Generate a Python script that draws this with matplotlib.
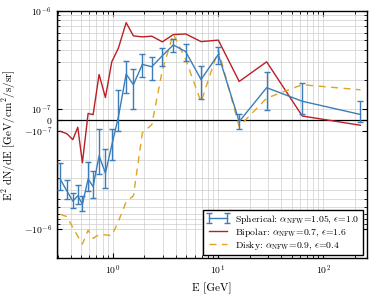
import matplotlib
matplotlib.use("Agg")
import matplotlib.pyplot as plt
import numpy as np
from matplotlib.ticker import SymmetricalLogLocator, LogLocator, NullFormatter

plt.rcParams.update({
    "font.family": "serif",
    "font.serif": ["cmr10"],
    "mathtext.fontset": "cm",
    "axes.formatter.use_mathtext": True,
    "axes.unicode_minus": True,
    "font.size": 7,
})

# energy bin centres [GeV]
E = [0.316, 0.366, 0.417, 0.465, 0.514, 0.583, 0.650, 0.741, 0.851, 0.978,
     1.13, 1.34, 1.57, 1.91, 2.35, 2.96, 3.76, 4.93, 6.90, 10.07,
     15.9, 29.0, 63.2, 226.0]

# E^2 dN/dE in units of 1e-7 GeV/cm^2/s/sr
spherical = [-3.1, -4.1, -5.2, -4.6, -5.6, -3.1, -3.7, -1.8, -2.7, -1.4,
             0.27, 2.27, 1.77, 2.85, 2.7, 3.5, 4.5, 3.85, 2.0, 3.6,
             -0.15, 1.65, 1.2, 0.5]
spherical_err = [0.95, 0.9, 0.9, 1.0, 1.0, 1.0, 1.15, 0.95, 1.15, 0.6,
                 1.28, 0.8, 0.76, 0.75, 0.73, 0.73, 0.7, 0.73, 0.73, 0.72,
                 0.7, 0.71, 0.63, 0.71]
bipolar = [-1.01, -1.07, -1.23, -0.67, -2.12, 0.6, 0.48, 2.25, 1.31, 3.03,
           4.17, 7.6, 5.57, 5.44, 5.53, 4.84, 5.74, 5.83, 4.87, 5.04,
           1.91, 3.03, 0.36, -0.49]
disky = [-7.1, -7.5, -9.7, -11.9, -14.3, -10.3, -12.5, -11.4, -11.5, -11.7,
         -8.4, -5.3, -4.6, -1.05, -0.43, 2.5, 5.8, 3.2, 1.18, 4.0,
         -0.6, 1.29, 1.77, 1.57]

LABELS = [r"Spherical: $\alpha_{\rm NFW}$=1.05, $\epsilon$=1.0",
          r"Bipolar: $\alpha_{\rm NFW}$=0.7, $\epsilon$=1.6",
          r"Disky: $\alpha_{\rm NFW}$=0.9, $\epsilon$=0.4"]
COLORS = ["#3b7dba", "#b91f24", "#e0a41e"]

scale = 1e-7
fig = plt.figure(figsize=(3.74, 2.96), dpi=100)
ax = fig.add_axes([0.152, 0.127, 0.828, 0.836])

h_sph = ax.errorbar(E, np.array(spherical) * scale, yerr=np.array(spherical_err) * scale,
                    color=COLORS[0], lw=1.0, capsize=2.2, capthick=1.0, elinewidth=1.0,
                    label=LABELS[0], zorder=4)
h_bip, = ax.plot(E, np.array(bipolar) * scale, color=COLORS[1], lw=1.0,
                 label=LABELS[1], zorder=3)
h_dis, = ax.plot(E, np.array(disky) * scale, color=COLORS[2], lw=1.0, ls=(0, (5, 4)),
                 label=LABELS[2], zorder=3)

ax.axhline(0, color="black", lw=0.9, zorder=2)

ax.set_xscale("log")
ax.set_yscale("symlog", linthresh=1e-7, linscale=0.1)
ax.set_xlim(0.294, 258)
ax.set_ylim(-2e-6, 1e-6)

ax.set_yticks([-1e-6, -1e-7, 0, 1e-7, 1e-6])
ax.yaxis.set_minor_locator(SymmetricalLogLocator(linthresh=1e-7, base=10,
                                                 subs=np.arange(2, 10)))
ax.yaxis.set_minor_formatter(NullFormatter())
ax.xaxis.set_minor_locator(LogLocator(base=10, subs=np.arange(2, 10), numticks=20))
ax.xaxis.set_minor_formatter(NullFormatter())

ax.grid(True, which="both", color="#cccccc", lw=0.6, alpha=0.8)
ax.set_axisbelow(True)
ax.tick_params(which="both", direction="in", top=True, right=True, labelsize=7)
ax.tick_params(which="major", length=3.5)
ax.tick_params(which="minor", length=2)
for s in ax.spines.values():
    s.set_linewidth(1.0)

ax.set_xlabel("E [GeV]", fontsize=8)
ax.set_ylabel(r"E$^2$ dN/dE [GeV/cm$^2$/s/sr]", fontsize=8)

leg = ax.legend(handles=[h_sph, h_bip, h_dis], labels=LABELS,
                loc="lower right", fontsize=7, fancybox=False, framealpha=1,
                edgecolor="black", borderpad=0.3, handlelength=2.4,
                labelspacing=0.0, numpoints=2, borderaxespad=0.4,
                handletextpad=0.6)
leg.get_frame().set_linewidth(1.0)

fig.savefig("out.png", dpi=100)
